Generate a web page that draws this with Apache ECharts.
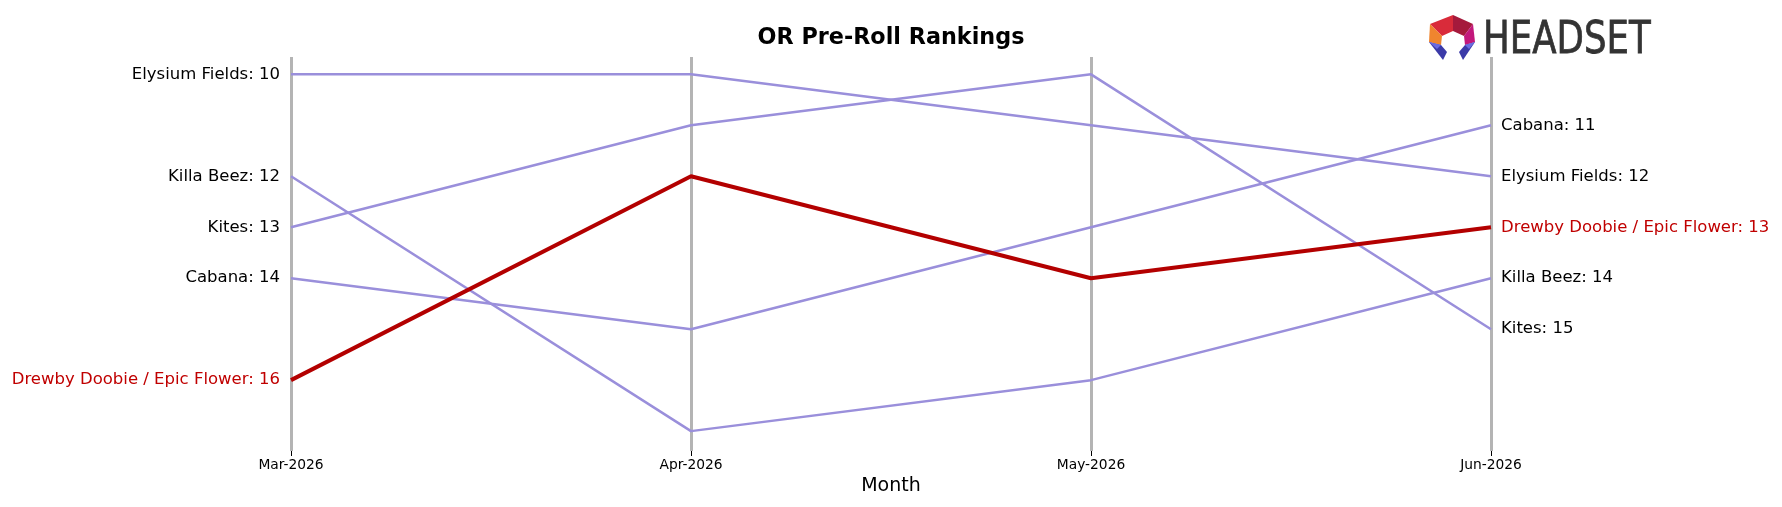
<!DOCTYPE html>
<html>
<head>
<meta charset="utf-8">
<script src="https://cdn.jsdelivr.net/npm/echarts@6/dist/echarts.min.js"></script>
<style>
	html, body { margin: 0; padding: 0; background: #fff; }
	#chart_container { width: 1782px; height: 507px; }
</style>
</head>
<body>
<div id="chart_container"></div>
<script>
// months on the x axis
const months = ["Mar-2026", "Apr-2026", "May-2026", "Jun-2026"]

// brand names and their rank each month
const brandNames = ["Elysium Fields", "Killa Beez", "Kites", "Cabana", "Drewby Doobie / Epic Flower"]
const elysiumFields = [10, 10, 11, 12]
const killaBeez = [12, 17, 16, 14]
const kites = [13, 11, 10, 15]
const cabana = [14, 15, 13, 11]
const drewbyDoobie = [16, 12, 14, 13]

const highlightBrand = "Drewby Doobie / Epic Flower"

const FONT = "DejaVu Sans"

const getSeriesItem = (name, ranks) => {
	const isHighlight = name === highlightBrand
	const textColor = isHighlight ? "#c00000" : "#000"
	const last = ranks.length - 1
	return {
		name,
		type: "line",
		symbol: "circle",
		symbolSize: 0,
		z: isHighlight ? 5 : 3,
		lineStyle: {
			color: isHighlight ? "#b30000" : "#9a8fdb",
			width: isHighlight ? 4 : 2.5,
		},
		itemStyle: { color: isHighlight ? "#b30000" : "#9a8fdb" },
		emphasis: { disabled: true },
		data: ranks.map((v, i) => {
			const item = { value: v }
			if (i === 0 || i === last) {
				item.label = {
					show: true,
					position: i === 0 ? "left" : "right",
					distance: i === 0 ? 11 : 10,
					formatter: `${name}: ${v}`,
					color: textColor,
					fontFamily: FONT,
					fontSize: 16.5,
				}
			}
			return item
		}),
	}
}

const series = [
	getSeriesItem(brandNames[0], elysiumFields),
	getSeriesItem(brandNames[1], killaBeez),
	getSeriesItem(brandNames[2], kites),
	getSeriesItem(brandNames[3], cabana),
	getSeriesItem(brandNames[4], drewbyDoobie),
]

// headset logo pieces (positions in px)
const logoPieces = [
	{ points: [[1430, 24], [1453, 15], [1453, 31], [1442, 36]], fill: "#d92b3a" },
	{ points: [[1453, 15], [1473, 24], [1464, 36], [1453, 31]], fill: "#a51a3c" },
	{ points: [[1473, 24], [1475, 42], [1465, 45], [1464, 36]], fill: "#c3187c" },
	{ points: [[1430, 24], [1442, 36], [1441, 45], [1429, 42]], fill: "#f0852e" },
	{ points: [[1429, 42], [1441, 45], [1447, 52], [1443, 60]], fill: "#3b3aa8" },
	{ points: [[1475, 42], [1465, 45], [1459, 52], [1463, 60]], fill: "#3b3aa8" },
	{ points: [[1429, 42], [1441, 45], [1437, 49]], fill: "#6b6be0" },
	{ points: [[1475, 42], [1465, 45], [1469, 49]], fill: "#6b6be0" },
]

const chart = echarts.init(document.querySelector("#chart_container"))
chart.setOption({
	animation: false,
	title: {
		text: "OR Pre-Roll Rankings",
		left: "center",
		top: 22,
		textStyle: {
			fontFamily: FONT,
			fontSize: 22.3,
			fontWeight: "bold",
			color: "#000",
		},
	},
	grid: {
		left: 291,
		right: 291,
		top: 57,
		bottom: 56,
	},
	xAxis: {
		type: "category",
		boundaryGap: false,
		data: months,
		name: "Month",
		nameLocation: "middle",
		nameGap: 26,
		nameTextStyle: { fontFamily: FONT, fontSize: 19, color: "#000" },
		axisLine: { show: false },
		axisTick: { show: true, length: 5, lineStyle: { color: "#000", width: 1 } },
		axisLabel: { fontFamily: FONT, fontSize: 13.8, color: "#000", margin: 7 },
		splitLine: { show: true, lineStyle: { color: "#b4b4b4", width: 3 } },
	},
	yAxis: {
		type: "value",
		inverse: true,
		min: 9.66,
		max: 17.39,
		show: false,
		splitLine: { show: false },
	},
	graphic: [
		...logoPieces.map(p => ({
			type: "polygon",
			shape: { points: p.points },
			style: { fill: p.fill },
			z: 10,
		})),
		{
			type: "text",
			x: 1483,
			y: 64,
			scaleX: 0.79,
			z: 10,
			style: {
				text: "HEADSET",
				font: `45px "${FONT}"`,
				fill: "#333",
				stroke: "#333",
				lineWidth: 0.8,
				textAlign: "left",
				textVerticalAlign: "bottom",
			},
		},
	],
	series,
})
</script>
</body>
</html>
